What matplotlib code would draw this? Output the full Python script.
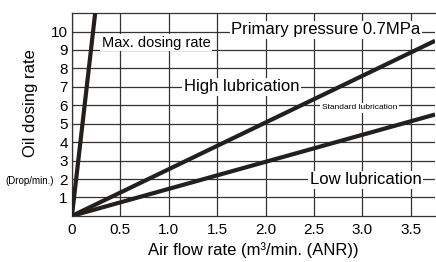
import matplotlib.pyplot as plt

# data (flow in m3/min, dosing in drops/min)
flow_max = [0, 0.24]
dose_max = [0, 11.0]
flow_high = [0, 3.75]
dose_high = [0, 9.5]
flow_low = [0, 3.75]
dose_low = [0, 5.5]

x_ticks = [0, 0.5, 1.0, 1.5, 2.0, 2.5, 3.0, 3.5]
x_labels = ["0", "0.5", "1.0", "1.5", "2.0", "2.5", "3.0", "3.5"]
y_ticks = [1, 2, 3, 4, 5, 6, 7, 8, 9, 10]

plt.rcParams['font.family'] = ['Liberation Sans', 'DejaVu Sans']

fig = plt.figure(figsize=(4.36, 2.62), dpi=100)
ax = fig.add_axes([0.165, 0.176, 0.833, 0.774])

ax.plot(flow_max, dose_max, color="#231f1c", lw=3, solid_capstyle="butt", zorder=4)
ax.plot(flow_high, dose_high, color="#231f1c", lw=3, solid_capstyle="butt", zorder=4)
ax.plot(flow_low, dose_low, color="#231f1c", lw=3, solid_capstyle="butt", zorder=4)

ax.set_xlim(0, 3.75)
ax.set_ylim(0, 11)
ax.set_xticks(x_ticks)
ax.set_xticklabels(x_labels, fontsize=11)
ax.set_yticks(y_ticks)
ax.set_yticklabels([str(v) for v in y_ticks], fontsize=11)
ax.tick_params(length=0, pad=3)
ax.tick_params(axis="x", pad=5)
ax.grid(True, color="#333333", lw=0.9)
for s in ax.spines.values():
    s.set_color("#333333")
    s.set_linewidth(0.9)
ax.spines["right"].set_visible(False)

box = dict(facecolor="white", edgecolor="none", pad=1)
ax.text(0.87, 9.4, "Max. dosing rate", fontsize=10.5, ha="center", va="center", bbox=box, zorder=3)
ax.text(2.62, 10.1, "Primary pressure 0.7MPa", fontsize=12, ha="center", va="center", bbox=box, zorder=3)
ax.text(1.75, 7.0, "High lubrication", fontsize=12, ha="center", va="center", bbox=box, zorder=3)
ax.text(2.97, 5.87, "Standard lubrication", fontsize=6, ha="center", va="center", bbox=box, zorder=3)
ax.text(3.03, 1.96, "Low lubrication", fontsize=12, ha="center", va="center", bbox=box, zorder=3)

fig.text(0.069, 0.607, "Oil dosing rate", fontsize=12, rotation=90, ha="center", va="center")
fig.text(0.067, 0.31, "(Drop/min.)", fontsize=7, ha="center", va="center")
fig.text(0.582, 0.046, "Air flow rate (m\u00b3/min. (ANR))", fontsize=12, ha="center", va="center")

fig.savefig("out.png", dpi=100)
